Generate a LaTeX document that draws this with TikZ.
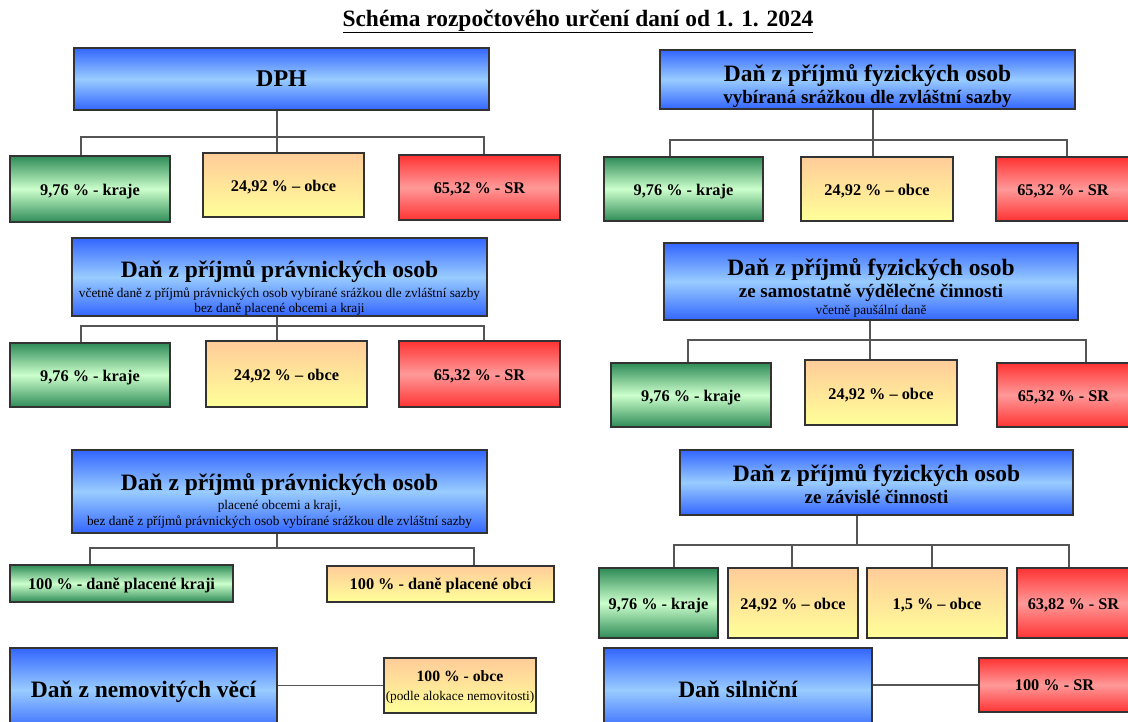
\documentclass[tikz,border=0pt]{standalone}
\usepackage{fontspec}
\setmainfont{Liberation Serif}
\definecolor{blueD}{HTML}{3366FF}
\definecolor{blueL}{HTML}{99CCFF}
\definecolor{greenD}{HTML}{2E8B57}
\definecolor{greenL}{HTML}{CCFFCC}
\definecolor{orT}{HTML}{FFCC99}
\definecolor{orB}{HTML}{FFFF99}
\definecolor{redD}{HTML}{FF3333}
\definecolor{redL}{HTML}{FF9999}
\definecolor{edgec}{HTML}{333333}
\definecolor{wire}{HTML}{555555}
\newcommand{\pctfont}{\fontsize{16.3}{18}\selectfont\bfseries}
\begin{document}
\begin{tikzpicture}[x=1pt,y=-1pt,
 wh/.style 2 args={minimum width=#1pt,minimum height=#2pt},
 boxbase/.style={draw=edgec,line width=1.2pt,inner sep=0pt},
 pctbox/.style={boxbase,font=\pctfont,text height=13pt,text depth=0pt},
 bluebox/.style={boxbase,top color=blueD,bottom color=blueD,middle color=blueL},
 greenbox/.style={pctbox,top color=greenD,bottom color=greenD,middle color=greenL},
 orbox/.style={pctbox,top color=orT,bottom color=orB},
 redbox/.style={pctbox,top color=redD,bottom color=redD,middle color=redL},
 conn/.style={draw=wire,line width=1.4pt},
 ttl/.style={anchor=mid,inner sep=0pt,yshift=-5pt,font=\fontsize{23.5}{26}\selectfont\bfseries},
 subb/.style={anchor=mid,inner sep=0pt,yshift=-3.5pt,font=\fontsize{19}{21}\selectfont\bfseries},
 subs/.style={anchor=mid,inner sep=0pt,yshift=-2.5pt,font=\fontsize{13.3}{15}\selectfont},
 pctl/.style={anchor=mid,inner sep=0pt,yshift=-2.5pt,font=\pctfont},
]
\useasboundingbox (0,0) rectangle (1128,722);
\fill[white] (0,0) rectangle (1128,722);

% title
\node[anchor=mid,inner sep=0pt,yshift=-5pt,font=\fontsize{23.4}{26}\selectfont\bfseries] (title) at (578,19)
  {\underline{Schéma rozpočtového určení daní od 1. 1. 2024}};

% ================= LEFT COLUMN =================
% DPH
\node[bluebox,wh={415}{62}] (dph) at (281.5,79) {};
\node[anchor=center,inner sep=0pt,font=\fontsize{24}{26}\selectfont\bfseries] (dpht) at (dph.center) {DPH};
\node[greenbox,wh={160}{66}] (l1g) at (90,189) {9,76 \% - kraje};
\node[orbox,wh={161}{64}] (l1o) at (283.5,185) {24,92 \% – obce};
\node[redbox,wh={161}{65}] (l1r) at (479.5,187.5) {65,32 \% - SR};
\coordinate (b1) at (277,137);
\draw[conn] ([xshift=-4.5pt]dph.south) -- ([xshift=-4.5pt]dph.south |- l1o.north);
\draw[conn] ([xshift=-9pt]l1g.north) |- (b1) -| ([xshift=4.5pt]l1r.north);

% DPPO 1
\node[bluebox,wh={415}{78}] (dppo1) at (279.5,277) {};
\node[ttl] (dppo1a) at (279.5,270) {Daň z příjmů právnických osob};
\node[subs] (dppo1b) at (279.5,293) {včetně daně z příjmů právnických osob vybírané srážkou dle zvláštní sazby};
\node[subs] (dppo1c) at (279.5,307.5) {bez daně placené obcemi a kraji};
\node[greenbox,wh={160}{64}] (l2g) at (90,375) {9,76 \% - kraje};
\node[orbox,wh={161}{66}] (l2o) at (286.5,374) {24,92 \% – obce};
\node[redbox,wh={161}{66}] (l2r) at (479.5,374) {65,32 \% - SR};
\coordinate (b2) at (277,326);
\draw[conn] ([xshift=-2.5pt]dppo1.south) -- ([xshift=-2.5pt]dppo1.south |- l2o.north);
\draw[conn] ([xshift=-9pt]l2g.north) |- (b2) -| ([xshift=4.5pt]l2r.north);

% DPPO 2
\node[bluebox,wh={415}{83}] (dppo2) at (279.5,491.5) {};
\node[ttl] (dppo2a) at (279.5,483) {Daň z příjmů právnických osob};
\node[subs] (dppo2b) at (279.5,505) {placené obcemi a kraji,};
\node[subs] (dppo2c) at (279.5,521) {bez daně z příjmů právnických osob vybírané srážkou dle zvláštní sazby};
\node[greenbox,wh={223}{37},text height=11pt] (l3g) at (121.5,583.5) {100 \% - daně placené kraji};
\node[orbox,wh={227}{36},text height=11pt] (l3o) at (440.5,584) {100 \% - daně placené obcí};
\coordinate (b3) at (277,548);
\draw[conn] ([xshift=-2.5pt]dppo2.south) -- ([xshift=-2.5pt]dppo2.south |- b3);
\draw[conn] ([xshift=-31.5pt]l3g.north) |- (b3) -| ([xshift=33.5pt]l3o.north);

% Nemovitosti
\node[bluebox,wh={267}{84}] (nem) at (143.5,690) {};
\node[ttl] (nemt) at (143.5,690) {Daň z nemovitých věcí};
\node[orbox,wh={152}{55}] (nemo) at (460,685.5) {};
\node[pctl,font=\fontsize{15.7}{17}\selectfont\bfseries] (nemoa) at (460,677) {100 \% - obce};
\node[subs] (nemob) at (460,696) {(podle alokace nemovitosti)};
\draw[conn] (nemo.west) -- (nemo.west -| nem.east);

% ================= RIGHT COLUMN =================
% DPFO 1
\node[bluebox,wh={415}{59}] (dpfo1) at (867.5,79.5) {};
\node[ttl] (dpfo1a) at (867.5,74) {Daň z příjmů fyzických osob};
\node[subb] (dpfo1b) at (867.5,98) {vybíraná srážkou dle zvláštní sazby};
\node[greenbox,wh={159}{64}] (r1g) at (683.5,189) {9,76 \% - kraje};
\node[orbox,wh={152}{64}] (r1o) at (877,189) {24,92 \% – obce};
\node[redbox,wh={134}{64}] (r1r) at (1063,189) {65,32 \% - SR};
\coordinate (b4) at (873,140);
\draw[conn] ([xshift=5.5pt]dpfo1.south) -- ([xshift=5.5pt]dpfo1.south |- r1o.north);
\draw[conn] ([xshift=-13.5pt]r1g.north) |- (b4) -| ([xshift=4pt]r1r.north);

% DPFO 2
\node[bluebox,wh={414}{77}] (dpfo2) at (871,281.5) {};
\node[ttl] (dpfo2a) at (871,268) {Daň z příjmů fyzických osob};
\node[subb] (dpfo2b) at (871,292) {ze samostatně výdělečné činnosti};
\node[subs] (dpfo2c) at (871,310) {včetně paušální daně};
\node[greenbox,wh={160}{64}] (r2g) at (691,395) {9,76 \% - kraje};
\node[orbox,wh={152}{65}] (r2o) at (881,392.5) {24,92 \% – obce};
\node[redbox,wh={133}{64}] (r2r) at (1063.5,395) {65,32 \% - SR};
\coordinate (b5) at (870,340);
\draw[conn] ([xshift=-1pt]dpfo2.south) -- ([xshift=-1pt]dpfo2.south |- r2o.north);
\draw[conn] ([xshift=-3pt]r2g.north) |- (b5) -| ([xshift=22.5pt]r2r.north);

% DPFO 3
\node[bluebox,wh={393}{65}] (dpfo3) at (876.5,482.5) {};
\node[ttl] (dpfo3a) at (876.5,474) {Daň z příjmů fyzických osob};
\node[subb] (dpfo3b) at (876.5,498) {ze závislé činnosti};
\node[greenbox,wh={119}{70}] (r3g) at (658.5,603) {9,76 \% - kraje};
\node[orbox,wh={130}{70}] (r3o) at (793,603) {24,92 \% – obce};
\node[orbox,wh={140}{70}] (r3p) at (937,603) {1,5 \% – obce};
\node[redbox,wh={113}{70}] (r3r) at (1073.5,603) {63,82 \% - SR};
\coordinate (b6) at (857,545);
\draw[conn] ([xshift=-19.5pt]dpfo3.south) -- ([xshift=-19.5pt]dpfo3.south |- b6);
\draw[conn] ([xshift=15.5pt]r3g.north) |- (b6) -| ([xshift=-4.5pt]r3r.north);
\draw[conn] ([xshift=-1pt]r3o.north) -- ([xshift=-1pt]r3o.north |- b6);
\draw[conn] ([xshift=-5pt]r3p.north) -- ([xshift=-5pt]r3p.north |- b6);

% Silnicni
\node[bluebox,wh={268}{84}] (sil) at (738,690) {};
\node[ttl] (silt) at (738,690) {Daň silniční};
\node[redbox,wh={151}{54},text height=11pt] (silr) at (1054.5,685) {100 \% - SR};
\draw[conn] (silr.west) -- (silr.west -| sil.east);
\end{tikzpicture}
\end{document}
